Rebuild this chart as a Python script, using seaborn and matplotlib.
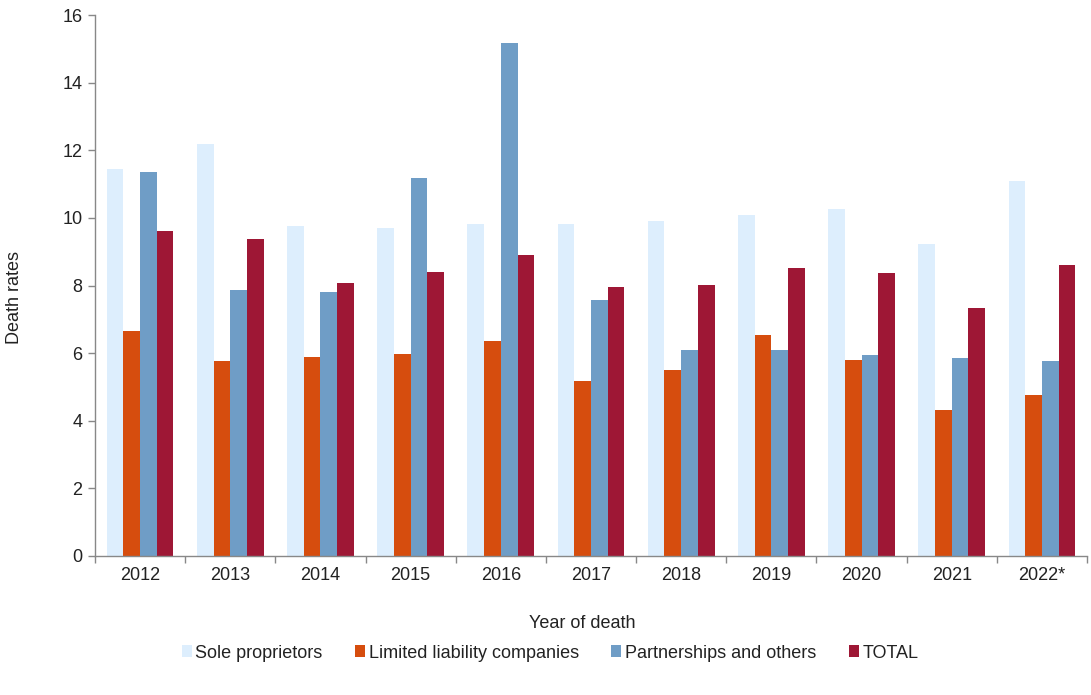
import matplotlib
matplotlib.use("Agg")
import matplotlib.pyplot as plt
import seaborn as sns
import pandas as pd
import numpy as np
from matplotlib.ticker import FixedLocator

years = ["2012", "2013", "2014", "2015", "2016", "2017", "2018", "2019", "2020", "2021", "2022*"]
sole = [11.45, 12.19, 9.76, 9.70, 9.82, 9.82, 9.91, 10.09, 10.27, 9.23, 11.09]
llc = [6.65, 5.77, 5.89, 5.98, 6.36, 5.18, 5.50, 6.54, 5.80, 4.32, 4.76]
partner = [11.36, 7.87, 7.81, 11.18, 15.18, 7.57, 6.09, 6.09, 5.95, 5.86, 5.77]
total = [9.62, 9.38, 8.08, 8.40, 8.91, 7.96, 8.02, 8.52, 8.37, 7.34, 8.61]

series_names = ["Sole proprietors", "Limited liability companies", "Partnerships and others", "TOTAL"]
colors = ["#DDEEFD", "#D64D0E", "#6F9DC6", "#9E1735"]

df = pd.DataFrame({
    "year": years * 4,
    "rate": sole + llc + partner + total,
    "series": sum([[s] * len(years) for s in series_names], []),
})

sns.set_theme(style="white")
plt.rcParams["font.family"] = ["Liberation Sans", "DejaVu Sans"]

W, H = 1091, 695
fig = plt.figure(figsize=(W / 100, H / 100), dpi=100)
left, right, top, bottom = 95, 1087, 15, 556
ax = fig.add_axes([left / W, 1 - bottom / H, (right - left) / W, (bottom - top) / H])

sns.barplot(data=df, x="year", y="rate", hue="series", order=years, hue_order=series_names,
            palette=colors, width=0.74, gap=0, ax=ax, saturation=1, legend=True,
            linewidth=0, edgecolor="none")

fs = 13
ax.set_xlim(-0.5, len(years) - 0.5)
ax.set_ylim(0, 16)
ax.set_yticks(np.arange(0, 17, 2))
ax.tick_params(axis="y", which="major", direction="out", length=5, width=1, color="#888888",
               labelsize=fs, labelcolor="#222222", left=True, pad=4)
ax.tick_params(axis="x", which="major", length=0, labelsize=fs, labelcolor="#222222", pad=8)
ax.xaxis.set_minor_locator(FixedLocator(np.arange(-0.5, len(years), 1.0)))
ax.tick_params(axis="x", which="minor", direction="out", length=5, width=1, color="#888888", bottom=True)

for side in ["top", "right"]:
    ax.spines[side].set_visible(False)
for side in ["left", "bottom"]:
    ax.spines[side].set_color("#888888")
    ax.spines[side].set_linewidth(1)

ax.set_xlabel("Year of death", fontsize=fs, color="#222222")
ax.xaxis.set_label_coords((582 - left) / (right - left), -(615 - bottom) / (bottom - top))
ax.set_ylabel("Death rates", fontsize=fs, color="#222222")
ax.yaxis.set_label_coords((23 - left) / (right - left), (bottom - 297) / (bottom - top))
ax.grid(False)

handles, labels = ax.get_legend_handles_labels()
ax.get_legend().remove()
leg = fig.legend(handles, labels, loc="center", bbox_to_anchor=(550 / W, 1 - 653 / H), ncol=4,
                 frameon=False, fontsize=fs, handlelength=0.55, handleheight=0.6,
                 handletextpad=0.2, columnspacing=1.8, borderaxespad=0)
for t in leg.get_texts():
    t.set_color("#222222")

fig.savefig("out.png", dpi=100)
